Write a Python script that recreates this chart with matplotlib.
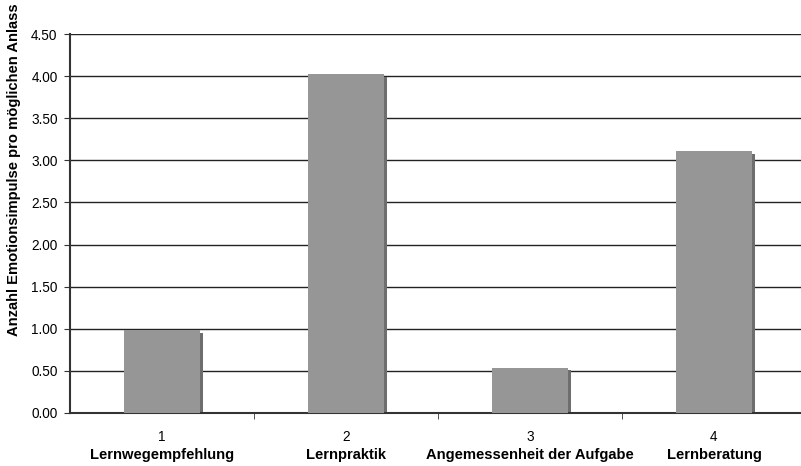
import matplotlib.pyplot as plt
import numpy as np

plt.rcParams['font.family'] = ['Liberation Sans', 'DejaVu Sans']

# data
positions = [1, 2, 3, 4]
names = ['Lernwegempfehlung', 'Lernpraktik', 'Angemessenheit der Aufgabe', 'Lernberatung']
values = [0.98, 4.02, 0.54, 3.11]

fig = plt.figure(figsize=(8.01, 4.66), dpi=100)
ax = fig.add_axes([70 / 801, 53 / 466, 736 / 801, 379 / 466])

# shadow behind the bars (Excel style)
ax.bar(np.array(positions) + 0.018, np.array(values) - 0.03, width=0.41,
       color='#6e6e6e', zorder=2)
ax.bar(positions, values, width=0.41, color='#969696', zorder=3)

ax.set_xlim(0.5, 4.5)
ax.set_ylim(0, 4.5)
ax.set_yticks(np.arange(0, 4.51, 0.5))
ax.set_yticklabels([f'{v:.2f}' for v in np.arange(0, 4.51, 0.5)], fontsize=9.8)
ax.yaxis.grid(True, color='#222222', linewidth=1.0, zorder=0)
ax.set_axisbelow(True)

ax.set_xticks(positions)
ax.set_xticklabels([str(p) for p in positions], fontsize=9.8)
ax.tick_params(axis='x', length=0, pad=12)
ax.set_xticks([1.5, 2.5, 3.5, 4.5], minor=True)
ax.tick_params(axis='x', which='minor', length=4, direction='out', color='#333333')
ax.tick_params(axis='y', length=4, color='#333333', pad=5)

for p, n in zip(positions, names):
    ax.text(p, -0.5, n, ha='center', va='center', fontsize=10.6, fontweight='bold',
            transform=ax.transData)

fig.text(14 / 801, 1 - 170 / 466, 'Anzahl Emotionsimpulse pro möglichen Anlass',
         rotation=90, ha='center', va='center', fontsize=10.6, fontweight='bold')

for s in ['top', 'right']:
    ax.spines[s].set_visible(False)
ax.spines['left'].set_color('#333333')
ax.spines['left'].set_linewidth(1.5)
ax.spines['bottom'].set_color('#333333')
ax.spines['bottom'].set_linewidth(1.5)

fig.savefig('out.png', dpi=100)
